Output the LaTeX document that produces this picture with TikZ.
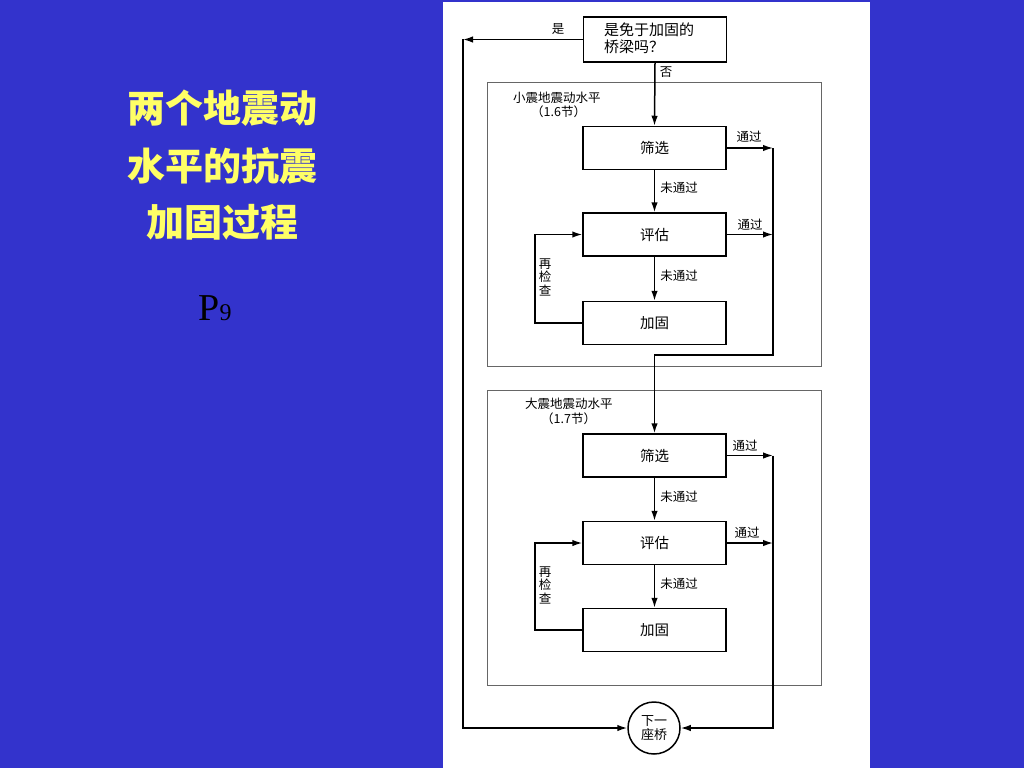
\documentclass[tikz,border=0pt]{standalone}
\usepackage{fontspec}
\setmainfont{Liberation Serif}
\newfontfamily\cjk{Noto Sans CJK SC}
\usetikzlibrary{arrows.meta}
\definecolor{bgblue}{HTML}{3333CC}
\definecolor{titleyellow}{HTML}{FFFF66}
\definecolor{framegray}{HTML}{666666}
\tikzset{
  box/.style={draw=black, line width=1.5pt, minimum width=143pt, minimum height=43pt, inner sep=0pt, font=\cjk\fontsize{14.5}{16}\selectfont},
  frm/.style={draw=framegray, line width=1pt},
  conn/.style={draw=black, line width=1.5pt},
  arr/.style={conn, -{Latex[length=10pt,width=6.5pt]}},
  lbl/.style={font=\cjk\fontsize{12.5}{14}\selectfont, inner sep=0pt},
  ttl/.style={font=\cjk\bfseries\fontsize{38}{40}\selectfont, text=titleyellow, inner sep=0pt}
}
\begin{document}
\begin{tikzpicture}[x=1pt,y=-1pt]
\useasboundingbox (0,0) rectangle (1024,768);
\fill[bgblue] (0,0) rectangle (1024,768);
\fill[white] (443,2) rectangle (870,768);

% left title
\node[ttl] (t1) at (222,108) {两个地震动};
\node[ttl] (t2) at (222,166) {水平的抗震};
\node[ttl] (t3) at (222,222) {加固过程};
\node[inner sep=0pt, text=black] (pg) at (215,308) {\fontsize{38}{38}\selectfont P\fontsize{24}{24}\selectfont 9};

% frames
\draw[frm] (487,82) rectangle (821,366);
\draw[frm] (487,390) rectangle (821,685);
\node[lbl, anchor=west] (fl1) at (513,98) {小震地震动水平};
\node[lbl, anchor=west] (fl1b) at (531,112) {（1.6节）};
\node[lbl, anchor=west] (fl2) at (525,404) {大震地震动水平};
\node[lbl, anchor=west] (fl2b) at (541,419) {（1.7节）};

% top question
\node[box, minimum height=45pt] (q) at (655,39.5) {};
\node[anchor=west, inner sep=0pt, align=left, font=\cjk\fontsize{15}{17}\selectfont] (qt) at (604,38) {是免于加固的\\桥梁吗？};

% stage 1
\node[box] (s1) at (654.5,148) {筛选};
\node[box] (e1) at (654.5,234.5) {评估};
\node[box] (f1) at (654.5,323) {加固};
% stage 2
\node[box] (s2) at (654.5,455.5) {筛选};
\node[box] (e2) at (654.5,543) {评估};
\node[box] (f2) at (654.5,630) {加固};

% next bridge
\node[draw=black, line width=1.5pt, circle, minimum size=52pt, inner sep=0pt, align=center, font=\cjk\fontsize{13}{14}\selectfont] (c) at (654,728) {下一\\座桥};

% coordinates
\coordinate (ltop) at (463,39.5);
\coordinate (lbot) at (463,728);
\coordinate (r1a) at (773,148);
\coordinate (r1b) at (773,355);
\coordinate (m1) at (654.5,355);
\coordinate (r2a) at (773,455.5);
\coordinate (r2b) at (773,728);
\coordinate (k1) at (535,323);
\coordinate (k2) at (535,630);

% connectors
\draw[arr] (q.west) -- (ltop);
\draw[arr] (ltop) -- (lbot) -- (c.west);
\draw[arr] (q.south) -- (s1.north);
\draw[arr] (s1.south) -- (e1.north);
\draw[arr] (e1.south) -- (f1.north);
\draw[arr] (s1.east) -- (r1a);
\draw[arr] (e1.east) -- (e1.east -| r1a);
\draw[arr] (r1a) -- (r1b) -- (m1) -- (s2.north);
\draw[arr] (f1.west) -- (k1) |- (e1.west);

\draw[arr] (s2.south) -- (e2.north);
\draw[arr] (e2.south) -- (f2.north);
\draw[arr] (s2.east) -- (r2a);
\draw[arr] (e2.east) -- (e2.east -| r2a);
\draw[arr] (r2a) -- (r2b) -- (c.east);
\draw[arr] (f2.west) -- (k2) |- (e2.west);

% labels
\node[lbl] (ly) at (558,29) {是};
\node[lbl] (ln) at (666,72) {否};
\node[lbl] (p1) at (749,137) {通过};
\node[lbl] (p2) at (750,225) {通过};
\node[lbl] (u1) at (679,188) {未通过};
\node[lbl] (u2) at (679,276) {未通过};
\node[lbl, align=center, font=\cjk\fontsize{12.5}{13.5}\selectfont] (rc1) at (545,277) {再\\检\\查};
\node[lbl] (p3) at (745,446) {通过};
\node[lbl] (p4) at (747,533) {通过};
\node[lbl] (u3) at (679,497) {未通过};
\node[lbl] (u4) at (679,584) {未通过};
\node[lbl, align=center, font=\cjk\fontsize{12.5}{13.5}\selectfont] (rc2) at (545,585) {再\\检\\查};
\end{tikzpicture}
\end{document}
